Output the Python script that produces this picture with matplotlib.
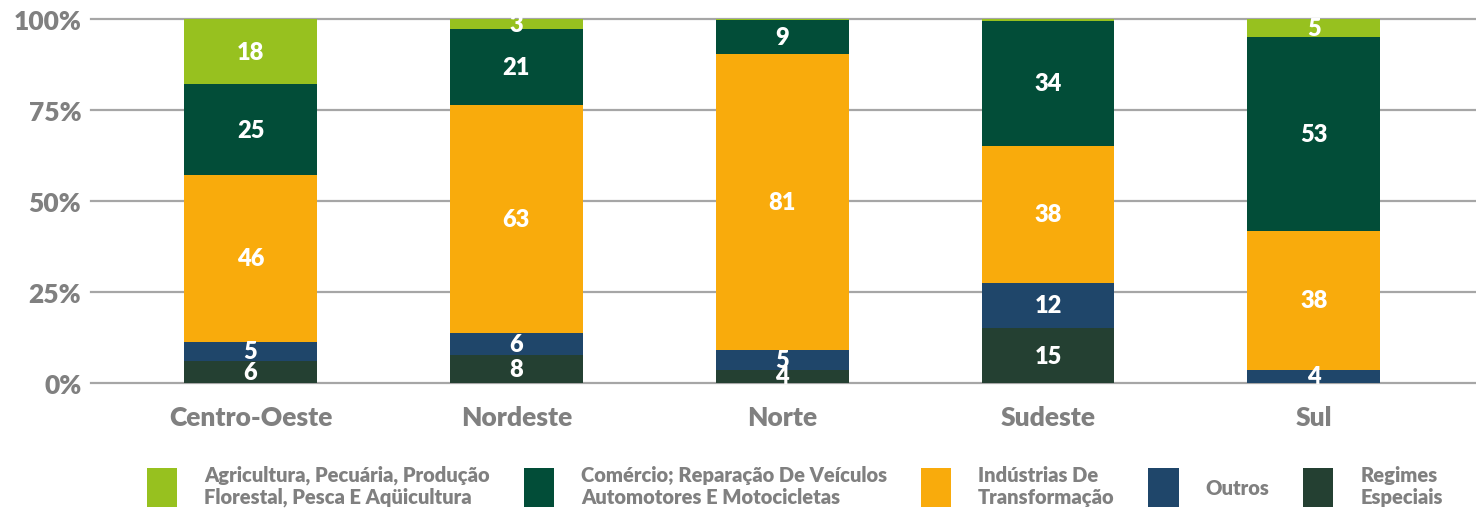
import matplotlib.pyplot as plt
import numpy as np

# Data: share (%) of each sector by region
regions = ['Centro-Oeste', 'Nordeste', 'Norte', 'Sudeste', 'Sul']
sectors = ['Agricultura, Pecuária, Produção\nFlorestal, Pesca E Aqüicultura',
           'Comércio; Reparação De Veículos\nAutomotores E Motocicletas',
           'Indústrias De\nTransformação',
           'Outros',
           'Regimes\nEspeciais']
regimes = [6.0, 7.6, 3.6, 15.1, 0.0]
outros = [5.4, 6.0, 5.4, 12.4, 3.6]
industria = [45.7, 62.7, 81.3, 37.6, 38.2]
comercio = [25.0, 20.9, 9.3, 34.4, 53.2]
agricultura = [17.9, 2.8, 0.4, 0.5, 5.0]

colors = {'agri': '#97c11f', 'com': '#024d38', 'ind': '#f9ab0c',
          'out': '#1f466a', 'reg': '#244032'}

plt.rcParams['font.family'] = ['Lato', 'DejaVu Sans']
plt.rcParams['font.weight'] = 'heavy'

fig = plt.figure(figsize=(14.76, 5.10), dpi=100)
ax = fig.add_axes([91 / 1476, 126 / 510, 1 - 91 / 1476, 364 / 510])

x = np.arange(len(regions))
width = 0.5

# stack from bottom: regimes, outros, industria, comercio, agricultura
stack = [(regimes, colors['reg'], sectors[4]),
         (outros, colors['out'], sectors[3]),
         (industria, colors['ind'], sectors[2]),
         (comercio, colors['com'], sectors[1]),
         (agricultura, colors['agri'], sectors[0])]

bottom = np.zeros(len(regions))
handles = {}
for vals, col, name in stack:
    vals = np.array(vals)
    bars = ax.bar(x, vals, width, bottom=bottom, color=col, zorder=3)
    handles[name] = bars
    for xi, b, v in zip(x, bottom, vals):
        if v >= 2:
            ax.text(xi, b + v / 2, f'{round(v)}', ha='center', va='center',
                    color='white', fontsize=17, fontweight='heavy', zorder=4)
    bottom += vals

# Axes styling
ax.set_xlim(-0.6, 4.61)
ax.set_ylim(0, 100)
ax.set_yticks([0, 25, 50, 75, 100])
ax.set_yticklabels(['0%', '25%', '50%', '75%', '100%'])
ax.set_xticks(x)
ax.set_xticklabels(regions)
ax.tick_params(axis='y', length=0, pad=7, labelsize=19, labelcolor='#808080')
ax.tick_params(axis='x', length=0, pad=16, labelsize=19, labelcolor='#808080')
for s in ax.spines.values():
    s.set_visible(False)
ax.grid(axis='y', color='#a6a6a6', linewidth=1.6, zorder=0)
for gl in ax.get_ygridlines():
    gl.set_clip_on(False)

# Legend in the same order as the picture
leg = fig.legend([handles[s] for s in sectors], sectors, loc='center',
                 bbox_to_anchor=(795 / 1476, 1 - 487 / 510), ncol=5,
                 frameon=False, fontsize=14.5, handlelength=1.5, handleheight=2.6,
                 handletextpad=1.35, columnspacing=1.67, labelcolor='#808080')
for t in leg.get_texts():
    t.set_linespacing(1.15)

plt.savefig('out.png', dpi=100)
